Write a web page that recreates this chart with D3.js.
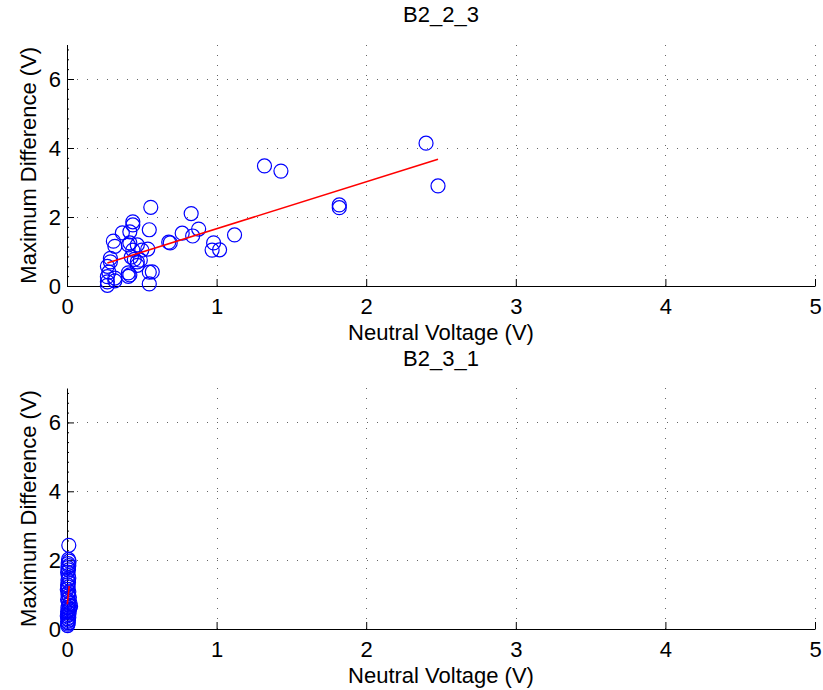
<!DOCTYPE html>
<html>
<head>
<meta charset="utf-8">
<script src="https://cdn.jsdelivr.net/npm/d3@7"></script>
<style>
  body { margin: 0; background: #fff; }
  svg { display: block; font-family: "Liberation Sans", Arial, Helvetica, sans-serif; }
</style>
</head>
<body>
<svg id="chart" width="823" height="690"></svg>
<script>
// Axis ticks
const xTicks = [0, 1, 2, 3, 4, 5];
const yTicks = [0, 2, 4, 6];

// Panel 1: B2_2_3 (neutral voltage, max difference)
const topX = [2.40, 2.48, 1.32, 1.43, 1.82, 1.82, 1.12, 0.98, 0.97, 1.02,
              0.83, 0.88, 0.84, 0.77, 0.69, 0.68, 0.56, 0.55, 0.54, 0.57,
              0.55, 0.55, 0.44, 0.44, 0.37, 0.42, 0.31, 0.32, 0.42, 0.47,
              0.44, 0.50, 0.45, 0.47, 0.29, 0.47, 0.27, 0.28, 0.27, 0.32,
              0.41, 0.42, 0.27, 0.27, 0.29, 0.41, 0.43, 0.49, 0.41, 0.32];
const topY = [4.14, 2.90, 3.48, 3.33, 2.35, 2.27, 1.48, 1.25, 1.04, 1.05,
              2.10, 1.65, 1.45, 1.53, 1.25, 1.27, 2.28, 1.63, 1.07, 0.41,
              0.40, 0.06, 1.86, 1.77, 1.54, 1.57, 1.30, 1.15, 1.25, 1.19,
              1.04, 1.04, 0.77, 0.70, 0.80, 0.60, 0.57, 0.40, 0.27, 0.15,
              0.38, 0.32, 0.12, 0.02, 0.70, 0.28, 0.84, 0.75, 1.19, 0.23];
const topFit = { slope: 1.36, intercept: 0.30 };

// Panel 2: B2_3_1
const botX = [0.012, 0.010, 0.014, 0.008, 0.012, 0.006, 0.010, 0.004, 0.008, 0.012,
              0.006, 0.010, 0.004, 0.008, 0.002, 0.012, 0.006, 0.010, 0.016, 0.004,
              0.008, 0.020, 0.012, 0.024, 0.006, 0.018, 0.010, 0.004, 0.014, 0.008,
              0.002, 0.012, 0.006, 0.010, 0.004, 0.008, 0.006, 0.004];
const botY = [2.43, 2.02, 1.97, 1.90, 1.84, 1.78, 1.72, 1.65, 1.55, 1.48,
              1.42, 1.35, 1.28, 1.22, 1.15, 1.08, 1.02, 0.97, 0.92, 0.86,
              0.80, 0.75, 0.70, 0.66, 0.62, 0.58, 0.54, 0.50, 0.46, 0.42,
              0.38, 0.34, 0.30, 0.26, 0.22, 0.18, 0.14, 0.10];
const botFit = { slope: 40.8, intercept: 0.638, from: 0.002, to: 0.015 };

const svg = d3.select("#chart");

function drawPanel(cfg) {
    const x = d3.scaleLinear().domain([0, 5]).range([67, 815]);
    const y = d3.scaleLinear().domain([0, 7]).range([cfg.bottom, cfg.top]);
    const g = svg.append("g");

    // Dotted grid
    g.append("g").selectAll("line")
        .data(xTicks.slice(1))
        .enter().append("line")
        .attr("x1", d => Math.round(x(d)) + 0.5).attr("x2", d => Math.round(x(d)) + 0.5)
        .attr("y1", y(0)).attr("y2", y(7))
        .attr("stroke", "#666").attr("stroke-dasharray", "1,9");
    g.append("g").selectAll("line")
        .data(yTicks.slice(1))
        .enter().append("line")
        .attr("y1", d => Math.round(y(d)) + 0.5).attr("y2", d => Math.round(y(d)) + 0.5)
        .attr("x1", x(0)).attr("x2", x(5))
        .attr("stroke", "#666").attr("stroke-dasharray", "1,9");

    // Minor y ticks
    g.append("g")
        .attr("transform", `translate(${x(0)},0)`)
        .call(d3.axisLeft(y).tickValues(d3.range(0, 7.001, 2 / 7)).tickSize(-2).tickFormat(""))
        .call(a => a.select(".domain").remove());

    // X axis
    g.append("g")
        .attr("transform", `translate(0,${y(0)})`)
        .call(d3.axisBottom(x).tickValues(xTicks).tickSizeInner(-7).tickSizeOuter(0).tickFormat(d3.format("d")))
        .call(a => a.selectAll("text").attr("y", 28).attr("dy", null)
            .attr("font-size", "22px").attr("fill", "#000").attr("font-family", null));

    // Y axis
    g.append("g")
        .attr("transform", `translate(${x(0)},0)`)
        .call(d3.axisLeft(y).tickValues(yTicks).tickSizeInner(-7).tickSizeOuter(0).tickFormat(d3.format("d")))
        .call(a => a.selectAll("text").attr("x", -6)
            .attr("font-size", "22px").attr("fill", "#000").attr("font-family", null));

    // Scatter points
    g.append("g").selectAll("circle")
        .data(cfg.xs.map((v, i) => [v, cfg.ys[i]]))
        .enter().append("circle")
        .attr("cx", d => x(d[0]))
        .attr("cy", d => y(d[1]))
        .attr("r", 7)
        .attr("fill", "none")
        .attr("stroke", "#0000ff")
        .attr("stroke-width", 1.2);

    // Fit line
    const x0 = cfg.fit.from !== undefined ? cfg.fit.from : d3.min(cfg.xs);
    const x1 = cfg.fit.to !== undefined ? cfg.fit.to : d3.max(cfg.xs);
    g.append("line")
        .attr("x1", x(x0)).attr("y1", y(cfg.fit.slope * x0 + cfg.fit.intercept))
        .attr("x2", x(x1)).attr("y2", y(cfg.fit.slope * x1 + cfg.fit.intercept))
        .attr("stroke", "#ff0000")
        .attr("stroke-width", 1.6);

    // Title
    g.append("text")
        .attr("x", (x(0) + x(5)) / 2)
        .attr("y", cfg.top - 22.5)
        .attr("text-anchor", "middle")
        .attr("font-size", "22px")
        .text(cfg.title);

    // X label
    g.append("text")
        .attr("x", (x(0) + x(5)) / 2)
        .attr("y", cfg.bottom + 54)
        .attr("text-anchor", "middle")
        .attr("font-size", "22px")
        .text("Neutral Voltage (V)");

    // Y label
    g.append("text")
        .attr("transform", `translate(36,${(cfg.top + cfg.bottom) / 2}) rotate(-90)`)
        .attr("text-anchor", "middle")
        .attr("font-size", "22px")
        .text("Maximum Difference (V)");
}

drawPanel({ title: "B2_2_3", top: 44.5, bottom: 286, xs: topX, ys: topY, fit: topFit });
drawPanel({ title: "B2_3_1", top: 388, bottom: 629, xs: botX, ys: botY, fit: botFit });
</script>
</body>
</html>
